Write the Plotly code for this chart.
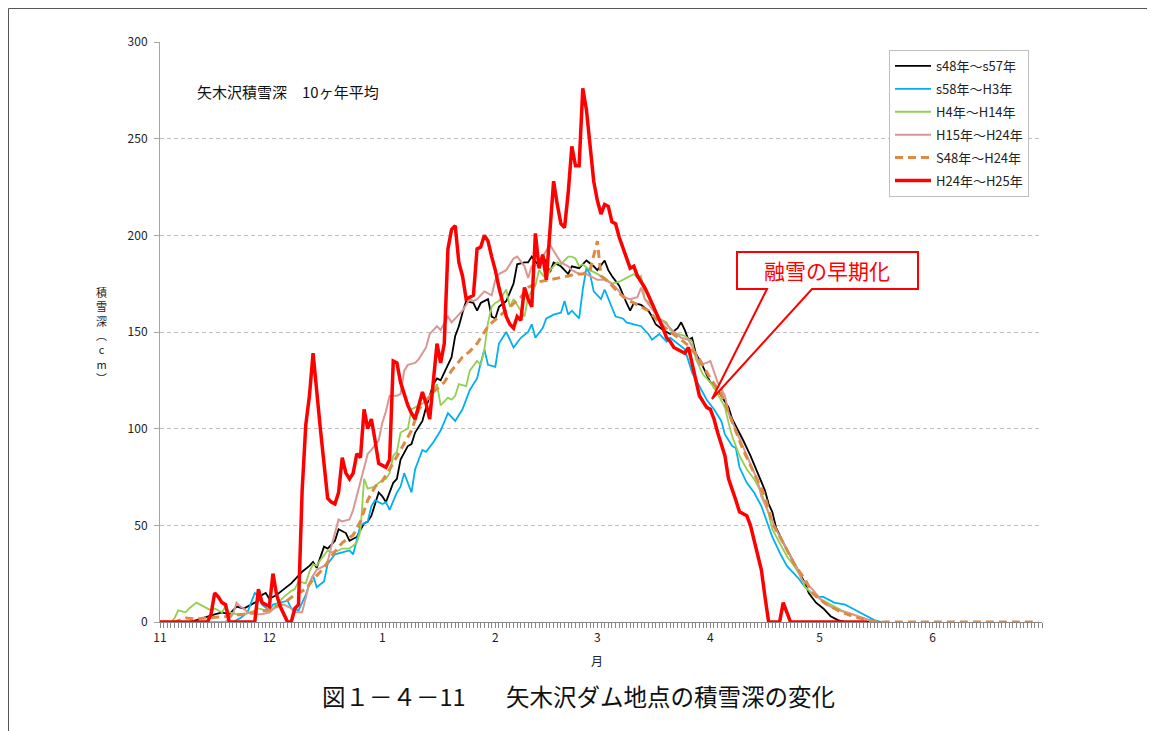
import datetime as dt

import plotly.graph_objects as go

START = dt.date(2012, 11, 1)
END_DAY = 242

MONTH_STARTS = ['2012-11-01', '2012-12-01', '2013-01-01', '2013-02-01',
                '2013-03-01', '2013-04-01', '2013-05-01', '2013-06-01']
MONTH_LABELS = ['11', '12', '1', '2', '3', '4', '5', '6']
Y_TICKS = [0, 50, 100, 150, 200, 250, 300]

# (days after 11/1, snow depth cm)
S48_S57 = [(0, 0), (8, 0), (10, 1), (13, 3), (15, 4), (17, 5), (19, 4), (21, 8), (23, 7), (25, 9),
           (27, 11), (28, 14), (29, 15), (30, 12), (32, 14), (34, 17), (36, 20), (38, 24), (39, 26), (41, 29),
           (42, 31), (43, 28), (45, 39), (46, 38), (48, 42), (49, 48), (51, 46), (52, 42), (54, 44), (56, 51),
           (57, 52), (58, 55), (59, 61), (60, 67), (61, 65), (62, 62), (64, 72), (65, 74), (66, 84), (68, 91),
           (69, 92), (70, 98), (72, 104), (73, 111), (75, 123), (76, 126), (77, 125), (78, 129), (80, 137),
           (81, 148), (82, 153), (83, 160), (84, 166), (86, 165), (87, 161), (88, 165), (90, 167), (91, 158),
           (92, 157), (93, 163), (95, 166), (97, 175), (98, 185), (100, 186), (101, 186), (102, 189),
           (104, 184), (105, 190), (107, 181), (108, 186), (110, 184), (112, 180), (113, 184), (115, 183),
           (117, 187), (119, 184), (120, 182), (122, 187), (123, 182), (124, 179), (126, 174), (128, 165),
           (129, 161), (130, 165), (132, 164), (134, 161), (135, 158), (136, 154), (138, 151), (140, 149),
           (142, 152), (143, 155), (144, 151), (145, 146), (146, 147), (147, 139), (149, 132), (151, 124),
           (152, 123), (154, 117), (156, 111), (157, 105), (159, 98), (160, 94), (162, 86), (164, 77),
           (166, 68), (167, 61), (168, 57), (169, 49), (171, 41), (173, 34), (175, 27), (177, 20), (178, 15),
           (180, 10), (182, 7), (184, 3), (186, 1), (188, 0), (196, 0)]

S58_H3 = [(0, 0), (20, 0), (22, 2), (24, 5), (25, 10), (26, 15), (27, 13), (28, 9), (30, 6), (31, 9),
          (33, 10), (35, 11), (36, 7), (38, 6), (40, 14), (41, 20), (42, 24), (43, 18), (45, 21), (46, 30),
          (48, 35), (50, 36), (52, 37), (53, 35), (54, 42), (55, 50), (57, 52), (58, 60), (59, 63), (61, 61),
          (62, 62), (63, 58), (65, 67), (66, 70), (67, 77), (69, 67), (70, 79), (72, 89), (73, 88), (75, 93),
          (77, 99), (79, 108), (81, 104), (83, 110), (85, 120), (87, 126), (88, 134), (89, 141), (90, 133),
          (92, 132), (93, 144), (95, 150), (97, 142), (99, 147), (101, 150), (102, 154), (103, 147),
          (105, 152), (106, 157), (108, 159), (110, 160), (111, 166), (112, 159), (113, 161), (115, 157),
          (116, 172), (117, 183), (118, 180), (119, 171), (121, 167), (122, 172), (123, 167), (125, 158),
          (127, 157), (128, 155), (130, 154), (132, 153), (134, 149), (135, 146), (137, 149), (139, 145),
          (140, 147), (142, 144), (144, 141), (146, 129), (148, 122), (150, 115), (152, 110), (154, 104),
          (155, 97), (157, 91), (158, 90), (159, 80), (161, 72), (163, 67), (165, 60), (166, 55), (168, 44),
          (170, 36), (172, 29), (175, 23), (177, 18), (180, 13), (182, 13), (185, 10), (188, 9), (190, 7),
          (192, 5), (194, 3), (196, 1), (198, 0)]

H4_H14 = [(0, 0), (3, 0), (4, 2), (5, 6), (7, 5), (8, 7), (10, 10), (11, 9), (12, 8), (14, 6),
          (15, 7), (17, 5), (18, 8), (19, 5), (21, 4), (23, 4), (25, 5), (26, 6), (27, 7), (29, 6),
          (30, 5), (32, 9), (33, 11), (34, 13), (36, 16), (37, 17), (38, 21), (40, 20), (41, 26), (42, 30),
          (43, 29), (44, 32), (46, 37), (47, 36), (49, 37), (50, 38), (52, 38), (54, 41), (55, 47), (56, 74),
          (57, 69), (59, 70), (60, 72), (62, 74), (63, 77), (64, 86), (65, 88), (66, 98), (68, 100),
          (69, 110), (70, 111), (72, 113), (73, 114), (75, 120), (76, 123), (77, 112), (79, 116), (80, 115),
          (81, 117), (82, 123), (84, 122), (85, 130), (87, 135), (88, 133), (89, 141), (90, 155), (91, 163),
          (92, 165), (93, 166), (95, 172), (96, 163), (97, 167), (99, 161), (100, 158), (101, 168),
          (103, 174), (104, 182), (106, 177), (107, 182), (109, 186), (110, 185), (112, 189), (113, 189),
          (114, 188), (115, 184), (116, 185), (118, 182), (120, 180), (122, 178), (124, 175), (126, 176),
          (128, 178), (130, 180), (131, 178), (132, 179), (133, 167), (135, 164), (136, 160), (137, 157),
          (139, 155), (140, 151), (142, 149), (144, 148), (146, 145), (147, 136), (149, 128), (151, 124),
          (153, 118), (155, 111), (156, 103), (157, 96), (159, 86), (161, 79), (163, 74), (165, 67),
          (167, 56), (168, 48), (170, 41), (172, 34), (174, 29), (176, 23), (177, 18), (180, 13), (183, 10),
          (187, 6), (190, 4), (193, 2), (196, 0)]

H15_H24 = [(0, 0), (18, 0), (20, 4), (21, 10), (22, 8), (23, 7), (24, 5), (26, 4), (28, 4), (30, 5),
           (32, 8), (34, 9), (36, 7), (37, 5), (39, 5), (40, 13), (41, 20), (42, 24), (43, 27), (45, 29),
           (46, 31), (47, 39), (49, 53), (50, 52), (52, 53), (53, 58), (54, 65), (56, 80), (57, 87), (58, 89),
           (60, 94), (61, 103), (62, 109), (63, 117), (65, 117), (66, 118), (67, 130), (68, 133), (70, 134),
           (71, 136), (73, 142), (74, 149), (76, 153), (77, 151), (79, 158), (80, 155), (81, 157), (83, 161),
           (85, 167), (86, 166), (87, 167), (89, 171), (91, 169), (92, 177), (93, 180), (95, 182), (97, 188),
           (98, 189), (100, 184), (101, 178), (102, 184), (104, 185), (105, 189), (106, 192), (107, 195),
           (109, 189), (110, 186), (112, 184), (113, 182), (115, 180), (117, 180), (119, 178), (120, 177),
           (122, 177), (124, 175), (126, 171), (127, 168), (129, 167), (131, 168), (132, 173), (133, 167),
           (135, 162), (137, 157), (139, 154), (141, 150), (143, 147), (145, 146), (147, 139), (148, 133),
           (150, 134), (151, 135), (153, 124), (155, 117), (156, 108), (158, 99), (160, 91), (162, 82),
           (164, 73), (165, 65), (167, 56), (169, 48), (171, 41), (173, 34), (175, 27), (176, 22), (179, 17),
           (182, 10), (185, 7), (188, 5), (190, 4), (193, 2), (196, 0)]

S48_H24 = [(0, 0), (4, 0), (7, 2), (10, 1.5), (12, 2), (15, 2.4), (18, 2.8), (21, 3.6), (23, 4), (26, 5),
           (29, 6), (32, 8), (34, 10), (37, 14), (40, 17), (42, 22), (45, 28), (47, 34), (50, 41), (53, 45),
           (55, 52), (57, 63), (59, 70), (61, 73), (63, 79), (66, 89), (69, 99), (71, 110), (75, 119),
           (78, 124), (80, 130), (83, 137), (85, 140), (87, 144), (90, 153), (93, 158), (96, 163), (99, 168),
           (101, 173), (104, 176), (107, 177), (110, 178), (112, 179), (114, 180), (116, 180), (118, 182),
           (119, 190), (120, 197), (121, 179), (123, 176), (126, 170), (128, 167), (131, 164), (134, 161),
           (137, 155), (140, 150), (143, 146), (145, 143), (148, 136), (151, 126), (154, 118), (157, 103),
           (160, 89), (163, 77), (166, 65), (168, 51), (171, 41), (174, 30), (177, 22), (179, 15), (183, 9),
           (187, 5), (190, 3), (194, 1), (197, 0), (241, 0)]

H24_H25 = [(0, 0), (13, 0), (14, 4), (15, 15), (16, 13), (17, 10), (18, 9), (19, 0), (26, 0), (27, 17),
           (28, 10), (29, 9), (30, 8), (31, 25), (32, 14), (33, 8), (35, 0), (36, 0), (37, 7), (38, 9),
           (39, 68), (40, 102), (41, 117), (42, 139), (43, 117), (44, 100), (45, 82), (46, 64), (47, 62),
           (48, 61), (49, 67), (50, 85), (51, 77), (52, 74), (53, 77), (54, 87), (55, 85), (56, 110),
           (57, 100), (58, 105), (59, 94), (60, 82), (61, 81), (62, 80), (63, 84), (64, 135), (65, 134),
           (66, 124), (67, 118), (68, 112), (69, 108), (70, 105), (72, 119), (73, 113), (74, 105), (75, 127),
           (76, 144), (77, 134), (78, 144), (79, 193), (80, 203), (81, 205), (82, 186), (83, 179), (84, 167),
           (85, 168), (86, 169), (87, 193), (88, 194), (89, 200), (90, 197), (91, 189), (92, 182), (93, 173),
           (94, 165), (95, 158), (96, 154), (97, 152), (98, 158), (99, 156), (100, 173), (101, 167),
           (102, 163), (103, 201), (104, 183), (105, 190), (106, 177), (107, 203), (108, 228), (109, 216),
           (110, 206), (111, 204), (112, 222), (113, 246), (114, 236), (115, 236), (116, 276), (117, 265),
           (118, 245), (119, 228), (120, 218), (121, 211), (122, 216), (123, 215), (124, 207), (125, 206),
           (126, 199), (127, 194), (128, 188), (129, 183), (130, 184), (131, 179), (132, 176), (133, 173),
           (134, 169), (135, 165), (136, 161), (137, 157), (138, 152), (139, 147), (140, 145), (141, 142),
           (142, 141), (143, 140), (144, 139), (145, 142), (146, 133), (147, 125), (148, 117), (149, 114),
           (150, 111), (151, 110), (152, 105), (153, 98), (154, 92), (155, 86), (156, 74), (157, 69),
           (158, 63), (159, 57), (160, 56), (161, 55), (162, 50), (163, 42), (164, 34), (165, 27), (166, 13),
           (167, 0), (170, 0), (171, 10), (172, 5), (173, 0), (194, 0)]

SERIES = [
    ('s48年～s57年', S48_S57, dict(color='#000000', width=1.8)),
    ('s58年～H3年', S58_H3, dict(color='#00B0F0', width=1.8)),
    ('H4年～H14年', H4_H14, dict(color='#92D050', width=1.8)),
    ('H15年～H24年', H15_H24, dict(color='#D99694', width=2)),
    ('S48年～H24年', S48_H24, dict(color='#DE8A45', width=3, dash='8px,5px')),
    ('H24年～H25年', H24_H25, dict(color='#FF0000', width=3.5)),
]

FONT = 'Noto Sans CJK JP'

# page is 1155x731, the plot div sits 8px in from the top-left (body margin)
W, H = 1147, 723
OFF = 8
# plot area in page pixels
PL, PR, PT, PB = 160, 1042, 42, 622


def px(x):
    return (x - PL) / (PR - PL)


def py(y):
    return (PB - y) / (PB - PT)


def to_date(d):
    return START + dt.timedelta(days=d)


def note(x, y, text, size, color='#222222', xanchor='center'):
    fig.add_annotation(x=px(x), y=py(y), xref='paper', yref='paper', text=text,
                       xanchor=xanchor, yanchor='middle', showarrow=False,
                       font=dict(family=FONT, size=size, color=color))


fig = go.Figure()
for i, (name, pts, line) in enumerate(SERIES):
    fig.add_trace(go.Scatter(
        x=[to_date(d) for d, _ in pts],
        y=[v for _, v in pts],
        mode='lines',
        name=name,
        legendgroup=str(i),
        line=line,
        cliponaxis=False,
    ))

fig.update_layout(
    width=W, height=H,
    margin=dict(l=PL - OFF, r=OFF + W - PR, t=PT - OFF, b=OFF + H - PB, pad=0),
    paper_bgcolor='white',
    plot_bgcolor='white',
    font=dict(family=FONT, size=12, color='#222222'),
    showlegend=True,
    legend=dict(
        x=px(889), y=py(50), xanchor='left', yanchor='top',
        bordercolor='#BFBFBF', borderwidth=1, bgcolor='white',
        font=dict(family=FONT, size=13, color='#222222'),
        tracegroupgap=3, itemwidth=36,
    ),
    xaxis=dict(
        type='date',
        range=[to_date(0), to_date(END_DAY)],
        tickvals=MONTH_STARTS, ticktext=MONTH_LABELS,
        ticks='outside', ticklen=5, tickcolor='#868686',
        minor=dict(ticks='outside', ticklen=5, tickcolor='#868686',
                   dtick=86400000, tick0='2012-11-01', showgrid=False),
        showline=True, linecolor='#868686', linewidth=1,
        showgrid=False, zeroline=False,
        tickfont=dict(size=12, color='#222222'),
    ),
    yaxis=dict(
        range=[0, 300], tickvals=Y_TICKS,
        ticks='outside', ticklen=5, tickcolor='#A6A6A6', ticklabelstandoff=4,
        showline=True, linecolor='#A6A6A6', linewidth=1,
        showgrid=True, gridcolor='#BFBFBF', griddash='4px,3px', gridwidth=1,
        zeroline=False,
        tickfont=dict(size=12, color='#222222'),
    ),
)

# callout "融雪の早期化"
callout = (f"M {px(737)},{py(252)} L {px(918)},{py(252)} L {px(918)},{py(289)} "
           f"L {px(812)},{py(289)} L {px(712)},{py(399)} L {px(767)},{py(289)} "
           f"L {px(737)},{py(289)} Z")
fig.add_shape(type='path', path=callout, xref='paper', yref='paper',
              line=dict(color='#FF0000', width=2), fillcolor='white', layer='above')
note(827, 270, '融雪の早期化', 21, color='#FF0000')

# outer frame (left and top edge)
fig.add_shape(type='line', xref='paper', yref='paper', x0=px(8.5), x1=px(8.5), y0=py(731), y1=py(8.5),
              line=dict(color='#555555', width=1))
fig.add_shape(type='line', xref='paper', yref='paper', x0=px(8.5), x1=px(1155), y0=py(8.5), y1=py(8.5),
              line=dict(color='#555555', width=1))

# texts
note(195, 91, '矢木沢積雪深\u300010ヶ年平均', 15, color='#111111', xanchor='left')
note(101, 335, '積<br>雪<br>深<br>︵<br>c<br>m<br>︶', 11)
note(597, 660, '月', 12)
note(578, 696, '図１－４－11\u3000\u2002 矢木沢ダム地点の積雪深の変化', 23.5, color='#111111')

fig.write_html("out.html")
